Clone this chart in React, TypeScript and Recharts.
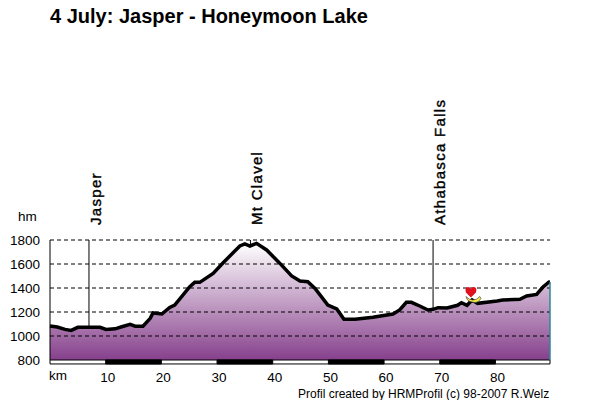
import React from 'react';
import { ComposedChart, Area, XAxis, YAxis, ReferenceLine, ReferenceArea, ReferenceDot } from 'recharts';

const FONT = '"Liberation Sans", Arial, sans-serif';
const PURPLE = '#86408c';

const kmValues = [0, 1.3, 2.7, 3.8, 5, 9, 10.05, 11.7, 12.9, 14.4, 15.3, 16.7, 18, 18.5, 20.1, 21.5, 22.4, 25.1, 26, 26.9, 29.3, 31.1, 34.1, 35, 35.9, 37.1, 38.9, 41.3, 43.4, 44.9, 46.3, 47.6, 49.9, 51.5, 52.8, 54.8, 58, 61.6, 62.8, 64, 64.9, 66.4, 67.9, 68.8, 69.7, 71.3, 73.2, 73.9, 74.9, 75.8, 76.8, 80.3, 81.3, 84.4, 85.6, 87.4, 88.5, 89.6, 89.8];
const elevations = [1083, 1075, 1055, 1047, 1072, 1072, 1055, 1060, 1077, 1097, 1082, 1082, 1147, 1192, 1183, 1238, 1258, 1411, 1447, 1447, 1522, 1611, 1750, 1767, 1750, 1772, 1717, 1605, 1500, 1458, 1453, 1397, 1258, 1225, 1139, 1139, 1156, 1183, 1217, 1281, 1281, 1250, 1217, 1222, 1236, 1233, 1256, 1278, 1256, 1300, 1272, 1292, 1300, 1306, 1333, 1347, 1406, 1450, 1452];

const yTicks = [800, 1000, 1200, 1400, 1600, 1800];
const gridLevels = [1000, 1200, 1400, 1600, 1800];
const xTicks = [10, 20, 30, 40, 50, 60, 70, 80];
const blackBands = [[10, 20], [30, 40], [50, 60], [70, 80]];
const places = [
    { name: 'Jasper', km: 7, elevation: 1075 },
    { name: 'Mt Clavel', km: 36, elevation: 1760 },
    { name: 'Athabasca Falls', km: 68.8, elevation: 1222 },
];
const KM_END = 89.8;

const data = kmValues.map((km, i) => ({ km, elevation: elevations[i] }));

const PlaceLabel = ({ viewBox, name }: any) => (
    <text
        transform={`translate(${viewBox.x + 12} ${viewBox.y - 15}) rotate(-90)`}
        fontFamily={FONT}
        fontSize={15}
        letterSpacing={1.3}
        fill="#000"
        stroke="#000"
        strokeWidth={0.4}
    >
        {name}
    </text>
);

const HeartMarker = ({ cx, cy }: any) => (
    <g>
        <path d={`M${cx - 5} ${cy + 4} q7 7 14 0 l1 2 q-2 4 -6 4 l-5 -1 q-3 -1 -4 -5 z`} fill="#f5ea4c" stroke="#333" strokeWidth={0.6} />
        <path d={`M${cx} ${cy + 5} l-5 -5 q-1.5 -5 2 -5.5 q2.2 0 3 2 q0.8 -2 3 -2 q3.5 0.5 2 5.5 z`} fill="#e0101c" />
    </g>
);

const Overlay = ({ x, y, size, bold, children }: any) => (
    <div
        style={{
            position: 'absolute',
            left: x,
            top: y,
            fontFamily: FONT,
            fontSize: size,
            fontWeight: bold ? 'bold' : 'normal',
            lineHeight: 1,
            whiteSpace: 'nowrap',
            color: '#000',
        }}
    >
        {children}
    </div>
);

const App = () => (
    <div style={{ position: 'absolute', left: 0, top: 0, width: 600, height: 400, background: '#fff', overflow: 'hidden' }}>
        <Overlay x={50} y={6} size={20} bold>4 July: Jasper - Honeymoon Lake</Overlay>
        <Overlay x={18} y={210} size={13.5}>hm</Overlay>
        <Overlay x={49} y={369} size={13.5}>km</Overlay>
        <Overlay x={298} y={388} size={12}>Profil created by HRMProfil (c) 98-2007 R.Welz</Overlay>
        <ComposedChart width={600} height={400} data={data} margin={{ top: 240, right: 50, bottom: 0, left: 0 }}>
            <defs>
                <linearGradient id="elevationFill" x1="0" y1="0" x2="0" y2="1">
                    <stop offset="0%" stopColor="#ffffff" />
                    <stop offset="100%" stopColor={PURPLE} />
                </linearGradient>
            </defs>
            <XAxis
                dataKey="km"
                type="number"
                domain={[0, KM_END]}
                ticks={xTicks}
                axisLine={false}
                tickLine={false}
                height={40}
                interval={0}
                tick={{ fontFamily: FONT, fontSize: 13.5, fill: '#000', dx: 2, dy: 4 }}
            />
            <YAxis
                type="number"
                domain={[800, 1800]}
                ticks={yTicks}
                width={50}
                axisLine={{ stroke: '#000' }}
                tickLine={false}
                interval={0}
                tick={{ fontFamily: FONT, fontSize: 13.5, fill: '#000', dx: -2 }}
            />
            <Area
                dataKey="elevation"
                type="linear"
                stroke="#000"
                strokeWidth={3.5}
                fill="url(#elevationFill)"
                fillOpacity={1}
                baseValue={800}
                dot={false}
                activeDot={false}
                isAnimationActive={false}
            />
            {gridLevels.map((level) => (
                <ReferenceLine key={level} y={level} stroke="#000" strokeDasharray="4 3" />
            ))}
            {places.map((p) => (
                <ReferenceLine
                    key={p.name}
                    stroke="#000"
                    segment={[{ x: p.km, y: p.elevation }, { x: p.km, y: 1800 }]}
                    label={<PlaceLabel name={p.name} />}
                />
            ))}
            <ReferenceLine
                stroke="#2b8a9c"
                strokeWidth={1.5}
                segment={[{ x: KM_END, y: 800 }, { x: KM_END, y: 1450 }]}
            />
            <ReferenceArea x1={0} x2={KM_END} y1={767} y2={800} ifOverflow="visible" fill="#fff" fillOpacity={1} stroke="#000" />
            {blackBands.map(([from, to]) => (
                <ReferenceArea key={from} x1={from} x2={to} y1={767} y2={800} ifOverflow="visible" fill="#000" fillOpacity={1} stroke="#000" />
            ))}
            <ReferenceDot x={75.6} y={1362} ifOverflow="visible" shape={<HeartMarker />} />
        </ComposedChart>
    </div>
);

export default App;
